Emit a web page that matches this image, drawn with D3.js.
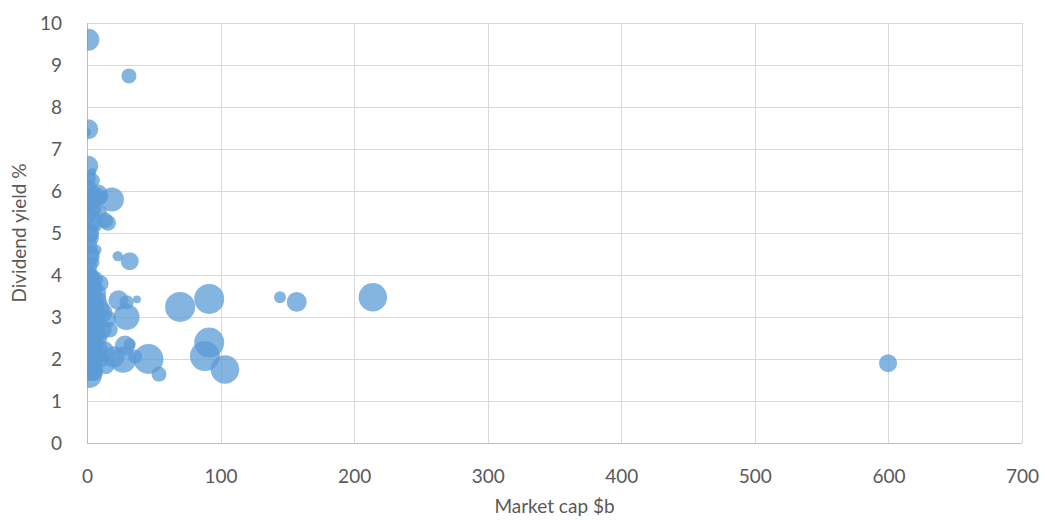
<!DOCTYPE html>
<html><head><meta charset="utf-8">
<script src="https://cdn.jsdelivr.net/npm/d3@7"></script>
<style>body{margin:0;background:#fff}svg{display:block}</style>
</head><body><svg id="c" width="1045" height="520"></svg>
<script>
const marketCap = [1,31.4,1,0,1,4,18.7,8,13.5,10,23,32,69.7,91.5,144.5,157,214,599.7,53.9,46,91.5,88.3,103.3,23.5,29.7,37.4,29.6,17,28.4,32,27,36,20,1.5,
  2,5,3,0.5,6,2,4,1,3,5,0.5,2,6,10,3,1,8,4,12,2,6,15,0.5,3,9,1,5,2,7,11,3,0.5,5,14,8,4,7,9,15.7,
  0.5,1,2,0.5,1.5,0.5,2,1,3,1,2,0.5,3,6,9,11,7,13,4];
const dividendYield = [9.6,8.74,7.47,7.4,6.6,6.45,5.8,5.9,5.3,5.5,4.45,4.33,3.24,3.43,3.47,3.36,3.47,1.9,1.64,2.0,2.39,2.07,1.75,3.4,3.35,3.42,3.0,2.7,2.32,2.35,1.98,2.06,2.05,1.62,
  6.1,5.9,5.6,5.4,5.2,5.0,4.9,4.7,4.5,4.3,4.2,4.0,3.9,3.8,3.7,3.5,3.4,3.2,3.1,3.0,2.9,2.95,2.8,2.6,2.5,2.4,2.3,2.2,2.1,2.0,1.9,1.8,1.7,1.85,2.6,5.7,4.6,5.85,5.24,
  6.3,5.8,5.3,4.9,4.45,3.95,3.6,3.3,2.95,2.65,2.35,2.05,1.75,3.55,3.2,2.7,2.25,2.2,6.25];
const bubbleSize = [54,25,44,7,44,7,64,50,28,20,12,36,100,100,16,44,90,36,25,100,100,100,90,44,22,7,75,28,44,16,75,22,50,75,
  20,40,50,30,25,40,10,35,30,15,40,25,30,30,50,45,35,60,40,50,45,35,40,55,30,45,35,50,40,30,55,45,40,35,25,20,12,30,28,
  30,60,60,55,50,60,65,70,70,65,70,70,60,55,50,45,55,40,25];
const xTicks = [0,100,200,300,400,500,600,700];
const yTicks = [0,1,2,3,4,5,6,7,8,9,10];

const svg = d3.select('#c');
const L=87, R=1022, T=23, B=443;
const x = d3.scaleLinear().domain([0,700]).range([L,R]);
const y = d3.scaleLinear().domain([0,10]).range([B,T]);
const r = d3.scaleSqrt().domain([0,100]).range([0,15]);
const font = 'Lato, "Open Sans", sans-serif';

svg.append('g').selectAll('line').data(yTicks).join('line')
  .attr('x1',L).attr('x2',R).attr('y1',d=>Math.round(y(d))+0.5).attr('y2',d=>Math.round(y(d))+0.5)
  .attr('stroke',d=>d===0?'#BFBFBF':'#D9D9D9').attr('stroke-width',1);
svg.append('g').selectAll('line').data(xTicks).join('line')
  .attr('y1',T).attr('y2',B).attr('x1',d=>Math.round(x(d))+0.5).attr('x2',d=>Math.round(x(d))+0.5)
  .attr('stroke',d=>d===0?'#BFBFBF':'#D9D9D9').attr('stroke-width',1);

const xAxis = svg.append('g').attr('transform',`translate(0,${B})`)
  .call(d3.axisBottom(x).tickValues(xTicks).tickSize(0).tickPadding(27));
const yAxis = svg.append('g').attr('transform',`translate(${L},0)`)
  .call(d3.axisLeft(y).tickValues(yTicks).tickSize(0).tickPadding(25));
[xAxis,yAxis].forEach(a=>{
  a.select('.domain').remove();
  a.selectAll('text').attr('font-family',font).attr('font-size',19).attr('fill','#595959');
});

svg.append('clipPath').attr('id','pc').append('rect').attr('x',L).attr('y',T).attr('width',R-L).attr('height',B-T);

const data = marketCap.map((m,i)=>({x:m,y:dividendYield[i],s:bubbleSize[i]}));
svg.append('g').attr('clip-path','url(#pc)').selectAll('circle').data(data).join('circle')
  .attr('cx',d=>x(d.x)).attr('cy',d=>y(d.y)).attr('r',d=>r(d.s))
  .attr('fill','#5B9BD5').attr('fill-opacity',0.75);

svg.append('text').attr('x',(L+R)/2).attr('y',513).attr('text-anchor','middle')
  .attr('font-family',font).attr('font-size',19).attr('fill','#595959').text('Market cap $b');
svg.append('text').attr('transform',`translate(26,${(T+B)/2}) rotate(-90)`).attr('text-anchor','middle')
  .attr('font-family',font).attr('font-size',19).attr('fill','#595959').text('Dividend yield %');
</script></body></html>
